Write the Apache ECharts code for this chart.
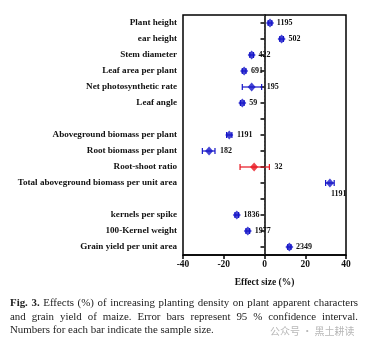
<!DOCTYPE html>
<html><head><meta charset="utf-8">
<script src="https://cdn.jsdelivr.net/npm/echarts@6/dist/echarts.min.js"></script>
<style>
html,body{margin:0;padding:0;background:#fff;}
#wrap{position:relative;width:372px;height:346px;overflow:hidden;}
#chart{position:absolute;left:0;top:0;width:372px;height:346px;}
#cap{position:absolute;left:10px;top:296px;width:348px;font-family:"Liberation Serif","Times New Roman",serif;font-size:10.9px;line-height:13.6px;color:#222;}
#cap .l{text-align:justify;text-align-last:justify;white-space:nowrap;}
#cap .last{text-align:left;}
#wm{position:absolute;left:270px;top:323px;font-family:"Noto Sans CJK SC",sans-serif;font-size:10px;color:#b8b8b8;}
</style></head>
<body><div id="wrap"><div id="chart"></div>
<div id="cap">
<div class="l"><b>Fig. 3.</b> Effects (%) of increasing planting density on plant apparent characters</div>
<div class="l">and grain yield of maize. Error bars represent 95 % confidence interval.</div>
<div class="last">Numbers for each bar indicate the sample size.</div>
</div>
<div id="wm">公众号 · 黑土耕读</div>
</div>
<script>
const categories = ['Plant height','ear height','Stem diameter','Leaf area per plant','Net photosynthetic rate','Leaf angle',' ','Aboveground biomass per plant','Root biomass per plant','Root-shoot ratio','Total aboveground biomass per unit area','  ','kernels per spike','100-Kernel weight','Grain yield per unit area'];
const effect = [2.7, 8.4, -6.3, -10.0, -6.3, -10.9, null, -17.3, -27.2, -5.1, 32.1, null, -13.6, -8.2, 12.2];
const lower  = [1.8, 7.5, -7.2, -10.9, -10.9, -11.8, null, -18.6, -30.5, -12.0, 30.0, null, -14.5, -9.1, 11.4];
const upper  = [3.6, 9.3, -5.4, -9.1, -1.4, -10.0, null, -16.0, -24.3, 2.4, 34.2, null, -12.7, -7.3, 13.0];
const sampleN = ['1195','502','422','691','195','59','','1191','182','32','1191','','1836','1977','2349'];
const xTicks = [-40, 20];
const blue = '#1414c8', red = '#e8141e';
const isRed = i => categories[i] === 'Root-shoot ratio';

const chart = echarts.init(document.getElementById('chart'));
const font = '"Liberation Serif","Times New Roman",serif';
const rows = categories.map((c,i)=>[i, lower[i], upper[i], effect[i], sampleN[i]]).filter(r=>r[3]!==null);

chart.setOption({
  animation:false,
  grid:{left:183,right:26,top:15,height:240,show:true,borderColor:'#000',borderWidth:1.5,backgroundColor:'transparent'},
  xAxis:{type:'value',min:xTicks[0],max:-xTicks[0],interval:xTicks[1],
    axisLine:{show:true,onZero:false,lineStyle:{color:'#000',width:1.5}},
    axisTick:{show:true,inside:false,length:4,lineStyle:{color:'#000',width:1.5}},
    splitLine:{show:false},
    axisLabel:{color:'#111',fontFamily:font,fontWeight:'bold',fontSize:9.5,margin:5},
    name:'Effect size (%)',nameLocation:'middle',nameGap:23,
    nameTextStyle:{color:'#111',fontFamily:font,fontWeight:'bold',fontSize:9.5}},
  yAxis:{type:'category',data:categories,inverse:true,
    axisLine:{show:true,lineStyle:{color:'#000',width:1.5}},
    axisTick:{show:true,alignWithLabel:true,length:4,lineStyle:{color:'#000',width:1.5}},
    axisLabel:{color:'#111',fontFamily:font,fontWeight:'bold',fontSize:9.1,margin:6,interval:0},
    splitLine:{show:false}},
  series:[
    {type:'custom',z:3,data:rows,encode:{x:[1,2],y:0},
     renderItem:function(params,api){
       const i=api.value(0);
       const y=api.coord([0,i])[1];
       const xl=api.coord([api.value(1),i])[0];
       const xu=api.coord([api.value(2),i])[0];
       const xe=api.coord([api.value(3),i])[0];
       const col=isRed(i)?red:blue;
       const st={stroke:col,lineWidth:1.2};
       const h=3;
       const label=sampleN[i];
       const cs=params.coordSys;
       let tx=xu+5, ty=y, tv='middle';
       if(tx+label.length*4.2>cs.x+cs.width){tx=xe+1;ty=y+11;}
       return {type:'group',children:[
         {type:'line',shape:{x1:xl,y1:y,x2:xu,y2:y},style:st},
         {type:'line',shape:{x1:xl,y1:y-h,x2:xl,y2:y+h},style:st},
         {type:'line',shape:{x1:xu,y1:y-h,x2:xu,y2:y+h},style:st},
         {type:'text',style:{x:tx,y:ty,text:label,fill:'#111',font:'bold 8px '+font,verticalAlign:tv,align:'left'},z2:10}
       ]};
     }},
    {type:'scatter',z:4,symbol:'diamond',symbolSize:[8,9],
     data:categories.map((c,i)=>effect[i]===null?null:{value:[effect[i],i],itemStyle:{color:isRed(i)?red:blue}}).filter(d=>d),
     markLine:{silent:true,symbol:'none',label:{show:false},
       lineStyle:{color:'#333',type:[1.5,2],width:1},data:[{xAxis:0}]}}
  ]
});
</script>
</body></html>
